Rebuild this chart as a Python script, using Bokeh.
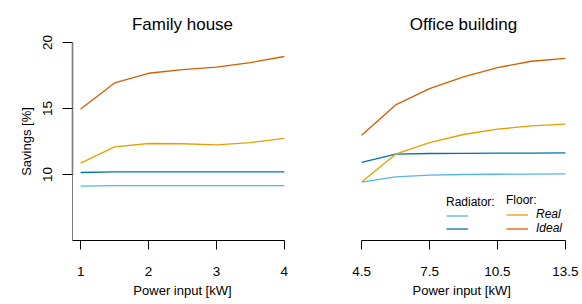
from bokeh.plotting import figure
from bokeh.layouts import row
from bokeh.models import FixedTicker, Span, Legend, LegendItem, Range1d
from bokeh.embed import file_html
from bokeh.resources import INLINE

# ---- data ----
house_power = [1, 1.5, 2, 2.5, 3, 3.5, 4]
house_rad_real = [9.12, 9.15, 9.15, 9.15, 9.15, 9.15, 9.15]
house_rad_ideal = [10.15, 10.2, 10.2, 10.2, 10.2, 10.2, 10.2]
house_floor_real = [10.86, 12.09, 12.35, 12.33, 12.24, 12.42, 12.73]
house_floor_ideal = [14.97, 16.94, 17.67, 17.95, 18.13, 18.48, 18.94]

office_power = [4.5, 6, 7.5, 9, 10.5, 12, 13.5]
office_rad_real = [9.42, 9.82, 9.95, 10.0, 10.02, 10.03, 10.05]
office_rad_ideal = [10.91, 11.54, 11.59, 11.6, 11.62, 11.62, 11.64]
office_floor_real = [9.44, 11.54, 12.42, 13.03, 13.43, 13.68, 13.81]
office_floor_ideal = [12.98, 15.27, 16.51, 17.4, 18.1, 18.58, 18.79]

house_ticks = [1, 2, 3, 4]
office_ticks = [4.5, 7.5, 10.5, 13.5]
y_ticks = [10, 15, 20]

titles = ["Family house", "Office building"]
x_labels = ["Power input [kW]", "Power input  [kW]"]
y_label = "Savings [%]"

COL_RAD_REAL = "#56B4E9"
COL_RAD_IDEAL = "#0072B2"
COL_FLOOR_REAL = "#E69F00"
COL_FLOOR_IDEAL = "#D55E00"

FONT = "Liberation Sans"
H = 304


def make_fig(width, mbl, mbr, xr, title, yaxis=True):
    kw = {}
    if not yaxis:
        kw["y_axis_location"] = None
    p = figure(width=width, height=H, x_range=Range1d(*xr), y_range=Range1d(5, 20),
               output_backend="svg", toolbar_location=None,
               min_border_left=mbl, min_border_right=mbr,
               min_border_top=42, min_border_bottom=64, title=title, **kw)
    p.outline_line_color = None
    p.grid.visible = False
    p.background_fill_color = "white"
    p.border_fill_color = "white"
    p.title.text_font = FONT
    p.title.text_font_size = "17px"
    p.title.text_font_style = "normal"
    p.title.text_color = "black"
    p.title.align = "center"
    p.title.standoff = 17
    xa = p.xaxis[0]
    xa.axis_line_color = "black"
    xa.major_tick_line_color = "black"
    xa.major_tick_out = 9
    xa.major_tick_in = 0
    xa.minor_tick_out = 0
    xa.minor_tick_in = 0
    xa.major_label_text_font = FONT
    xa.major_label_text_font_size = "13.5px"
    xa.major_label_text_color = "black"
    xa.major_label_standoff = 17
    xa.axis_label_text_font = FONT
    xa.axis_label_text_font_size = "13px"
    xa.axis_label_text_font_style = "normal"
    xa.axis_label_text_color = "black"
    xa.axis_label_standoff = 4
    return p


# ---- left panel ----
p1 = make_fig(300, 72, 8, (0.88, 4.12), titles[0])
p1.xaxis.ticker = FixedTicker(ticks=house_ticks)
p1.xaxis.bounds = (0.88, 4)
p1.xaxis.axis_label = x_labels[0]
ya = p1.yaxis[0]
ya.ticker = FixedTicker(ticks=y_ticks)
ya.bounds = (10, 20)
ya.axis_line_color = "#7a7a7a"
ya.axis_line_width = 1.6
ya.major_tick_line_color = "black"
ya.major_tick_out = 10
ya.major_tick_in = 0
ya.minor_tick_out = 0
ya.minor_tick_in = 0
ya.major_label_orientation = "vertical"
ya.major_label_text_font = FONT
ya.major_label_text_font_size = "13.5px"
ya.major_label_text_color = "black"
ya.major_label_standoff = 11
ya.axis_label = y_label
ya.axis_label_text_font = FONT
ya.axis_label_text_font_size = "13px"
ya.axis_label_text_font_style = "normal"
ya.axis_label_text_color = "black"
ya.axis_label_standoff = 6
p1.add_layout(Span(location=0.88, dimension="height", line_color="black",
                   line_width=1, level="underlay"))

lw = 1.3
p1.line(house_power, house_rad_real, line_color=COL_RAD_REAL, line_width=lw)
p1.line(house_power, house_rad_ideal, line_color=COL_RAD_IDEAL, line_width=lw)
p1.line(house_power, house_floor_real, line_color=COL_FLOOR_REAL, line_width=lw)
p1.line(house_power, house_floor_ideal, line_color=COL_FLOOR_IDEAL, line_width=lw)

# ---- right panel ----
p2 = make_fig(282, 53, 9, (4.14, 13.86), titles[1], yaxis=False)
p2.xaxis.ticker = FixedTicker(ticks=office_ticks)
p2.xaxis.bounds = (4.5, 13.5)
p2.xaxis.axis_label = x_labels[1]

r_rr = p2.line(office_power, office_rad_real, line_color=COL_RAD_REAL, line_width=lw)
r_ri = p2.line(office_power, office_rad_ideal, line_color=COL_RAD_IDEAL, line_width=lw)
r_fr = p2.line(office_power, office_floor_real, line_color=COL_FLOOR_REAL, line_width=lw)
r_fi = p2.line(office_power, office_floor_ideal, line_color=COL_FLOOR_IDEAL, line_width=lw)


def style_legend(leg):
    leg.border_line_color = None
    leg.background_fill_alpha = 0
    leg.padding = 0
    leg.margin = 0
    leg.spacing = 0
    leg.glyph_width = 22
    leg.glyph_height = 13
    leg.label_height = 13
    leg.label_standoff = 8
    leg.label_text_font = FONT
    leg.label_text_font_size = "12px"
    leg.label_text_font_style = "italic"
    leg.label_text_color = "black"
    leg.title_text_font = FONT
    leg.title_text_font_size = "12px"
    leg.title_text_font_style = "normal"
    leg.title_text_color = "black"
    leg.title_standoff = -2


leg_rad = Legend(items=[LegendItem(label=" ", renderers=[r_rr]),
                        LegendItem(label=" ", renderers=[r_ri])],
                 title="Radiator:", location=(93, 5))
leg_floor = Legend(items=[LegendItem(label="Real", renderers=[r_fr]),
                          LegendItem(label="Ideal", renderers=[r_fi])],
                   title="Floor:", location=(153, 5))
style_legend(leg_rad)
style_legend(leg_floor)
p2.add_layout(leg_rad)
p2.add_layout(leg_floor)

layout = row(p1, p2)
open("out.html", "w").write(file_html(layout, INLINE))
